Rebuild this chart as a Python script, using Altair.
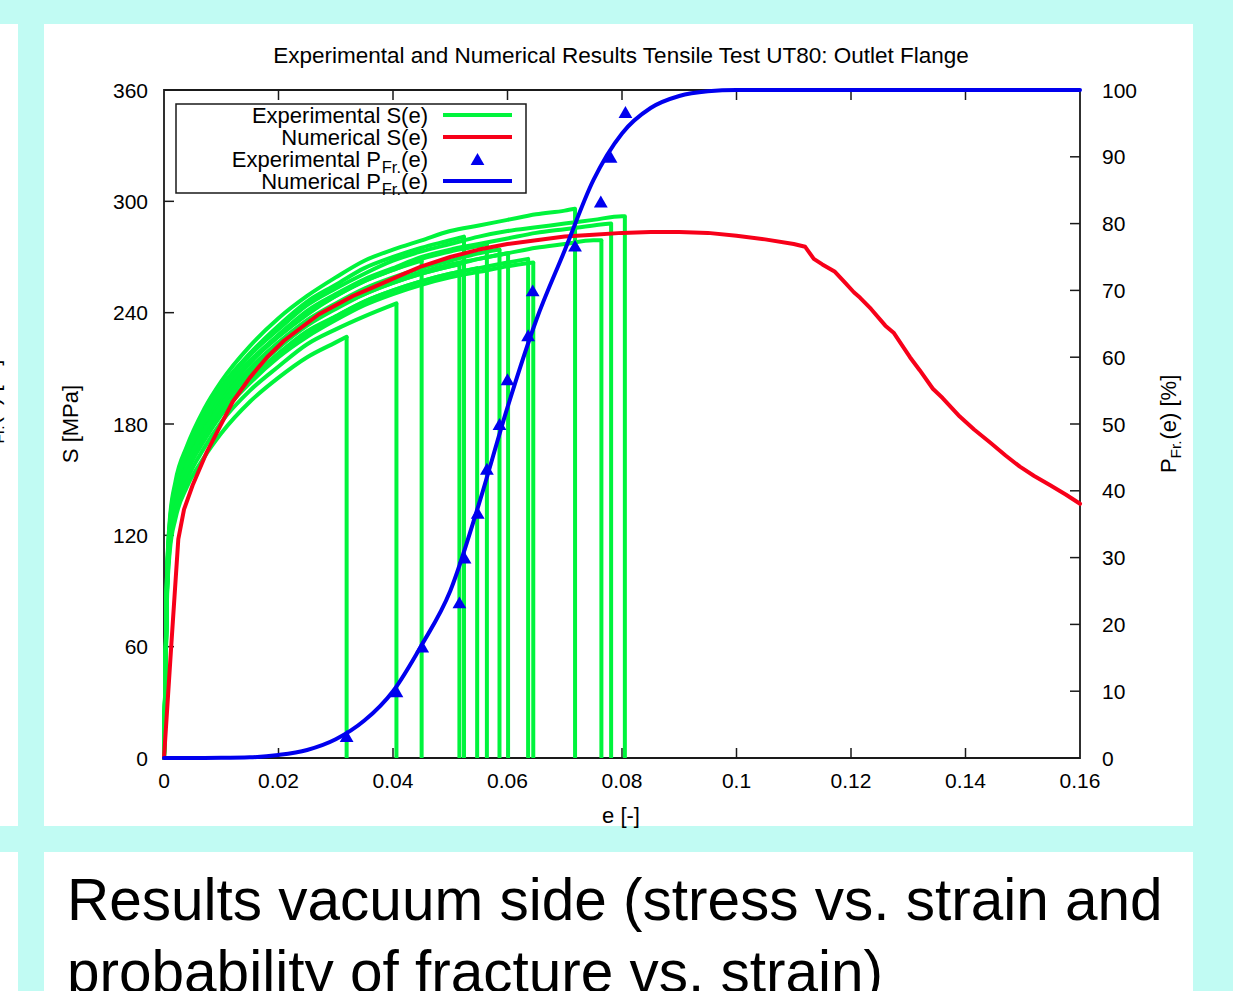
import altair as alt
import pandas as pd

FONT = "Liberation Sans"
CYAN = "#c1fbf3"
GREEN = "#00f43c"
RED = "#f70019"
BLUE = "#0000ee"
INK = "#1a1a1a"

# ---------------- data ----------------
strain_grid = [0, 0.0005, 0.001, 0.002, 0.004, 0.007, 0.01, 0.015, 0.02, 0.025, 0.03,
               0.035, 0.04, 0.045, 0.05, 0.055, 0.06, 0.065, 0.07, 0.075, 0.08]

exp_curves = [
    [0, 83, 111, 129, 146, 162, 175, 192, 205, 216, 224],
    [0, 86, 114, 133, 150, 167, 181, 198, 211, 223, 231, 238],
    [0, 92, 123, 143, 162, 180, 194, 213, 227, 239, 249, 257, 263],
    [0, 90, 120, 139, 157, 175, 189, 207, 221, 233, 242, 250, 256, 261, 265],
    [0, 95, 126, 147, 166, 185, 200, 218, 233, 246, 255, 264, 270, 275, 279],
    [0, 88, 118, 137, 155, 172, 186, 204, 218, 229, 238, 246, 252, 257, 261],
    [0, 92, 123, 144, 162, 180, 195, 213, 228, 240, 249, 257, 263, 269, 273, 276],
    [0, 91, 121, 141, 159, 177, 192, 210, 224, 236, 245, 253, 259, 264, 268, 272],
    [0, 90, 120, 140, 158, 176, 190, 208, 222, 234, 243, 250, 256, 261, 265, 269],
    [0, 88, 118, 137, 155, 173, 186, 204, 218, 230, 238, 246, 252, 257, 261, 264, 267],
    [0, 87, 117, 136, 154, 171, 185, 202, 216, 227, 236, 244, 250, 255, 259, 262, 265],
    [0, 96, 128, 149, 168, 188, 203, 222, 237, 249, 259, 268, 274, 279, 284, 287, 290, 293, 295],
    [0, 90, 120, 140, 158, 176, 190, 208, 222, 234, 243, 251, 257, 262, 266, 269, 272, 275, 277, 279],
    [0, 93, 123, 144, 163, 181, 196, 214, 228, 241, 250, 258, 264, 270, 274, 277, 280, 283, 285, 287],
    [0, 94, 125, 146, 164, 183, 198, 217, 231, 244, 253, 261, 268, 273, 277, 281, 284, 286, 288, 290, 292],
]
fracture_e = [0.0319, 0.0406, 0.0450, 0.0516, 0.0524, 0.0547, 0.0564, 0.0586, 0.0601,
              0.0636, 0.0645, 0.0718, 0.0764, 0.0781, 0.0805]
fracture_S = [227, 245, 268, 266, 281, 264, 277, 274, 272, 269, 267, 296, 279, 288, 292]

num_e = [0, 0.0013, 0.0025, 0.0035, 0.005, 0.0075, 0.0095, 0.012, 0.015, 0.018, 0.021, 0.024,
         0.027, 0.030, 0.033, 0.036, 0.039, 0.042, 0.045, 0.05, 0.055, 0.06, 0.065, 0.07, 0.075,
         0.08, 0.085, 0.09, 0.095, 0.1, 0.105, 0.11, 0.112, 0.1135, 0.115, 0.1172, 0.119, 0.1205,
         0.1216, 0.1235, 0.126, 0.1275, 0.1303, 0.132, 0.1343, 0.136, 0.139, 0.1415, 0.1443,
         0.147, 0.1495, 0.152, 0.1548, 0.1575, 0.16]
num_S = [0, 62, 118, 134, 147, 165, 177, 192, 205, 216, 225, 232, 239, 244, 249, 253, 257,
         261, 265, 270, 274, 277, 279, 281, 282, 283, 283.5, 283.5, 283, 281.5, 279.5, 277,
         275.5, 269, 266, 262, 256, 251, 248, 242, 233, 229, 216, 209, 199, 194, 184, 177,
         170, 163, 157, 152, 147, 142, 137]

pf_e = [0, 0.005, 0.01, 0.015, 0.02, 0.025, 0.03, 0.035, 0.04, 0.045, 0.05, 0.055, 0.06,
        0.065, 0.07, 0.075, 0.08, 0.085, 0.09, 0.095, 0.1, 0.12, 0.16]
pf_P = [0, 0, 0.02, 0.1, 0.45, 1.2, 2.8, 5.6, 10, 16.9, 25, 38, 52.5, 65.5, 76, 86.5, 93.5,
        97.3, 99.1, 99.8, 100, 100, 100]

exp_pf_e = [0.0319, 0.0406, 0.0451, 0.0516, 0.0525, 0.0548, 0.0564, 0.0586, 0.0600, 0.0636,
            0.0644, 0.0718, 0.0763, 0.0780, 0.0806]
exp_pf_P = [3.3, 10.0, 16.7, 23.3, 30.0, 36.7, 43.3, 50.0, 56.7, 63.3, 70.0, 76.7, 83.3, 90.0, 96.7]

x_tick_values = [0, 0.02, 0.04, 0.06, 0.08, 0.1, 0.12, 0.14, 0.16]
x_tick_labels = ["0", "0.02", "0.04", "0.06", "0.08", "0.1", "0.12", "0.14", "0.16"]
s_tick_values = [0, 60, 120, 180, 240, 300, 360]
p_tick_values = [0, 10, 20, 30, 40, 50, 60, 70, 80, 90, 100]

# ---------------- tables ----------------
rows = []
for c, (vals, ef, sf) in enumerate(zip(exp_curves, fracture_e, fracture_S)):
    for i, s in enumerate(vals):
        rows.append({"curve": c, "i": i, "e": strain_grid[i], "S": s})
    rows.append({"curve": c, "i": len(vals), "e": ef, "S": sf})
green_df = pd.DataFrame(rows)
drops_df = pd.DataFrame({"e": fracture_e, "S": fracture_S, "z": [0] * len(fracture_e)})
red_df = pd.DataFrame({"e": num_e, "S": num_S})
blue_df = pd.DataFrame({"e": pf_e, "P": pf_P})
tri_df = pd.DataFrame({"e": exp_pf_e, "P": exp_pf_P})
xl_df = pd.DataFrame({"e": x_tick_values, "lab": x_tick_labels})
sl_df = pd.DataFrame({"S": s_tick_values, "lab": [str(v) for v in s_tick_values]})
pl_df = pd.DataFrame({"P": p_tick_values, "lab": [str(v) for v in p_tick_values]})
xt_df = pd.DataFrame({"e": x_tick_values[1:-1]})
st_df = pd.DataFrame({"S": s_tick_values[1:-1]})
pt_df = pd.DataFrame({"P": p_tick_values[1:-1]})
dummy = pd.DataFrame({"k": [0]})

W, H = 916, 668
xs = alt.Scale(domain=[0, 0.16], nice=False, zero=False)
ys = alt.Scale(domain=[0, 360], nice=False, zero=False)
ps = alt.Scale(domain=[0, 100], nice=False, zero=False)

LAB = 21


def X(field="e"):
    return alt.X(f"{field}:Q", scale=xs, axis=None)


def YS(field="S"):
    return alt.Y(f"{field}:Q", scale=ys, axis=None)


def YP(field="P"):
    return alt.Y(f"{field}:Q", scale=ps, axis=None)


def rect(x1, x2, y1, y2, **kw):
    return alt.Chart(dummy).mark_rect(**kw).encode(
        x=alt.value(x1), x2=alt.value(x2), y=alt.value(y1), y2=alt.value(y2))


def txt(s, x, y, size=22, align="left", angle=0, baseline="alphabetic"):
    return alt.Chart(dummy).mark_text(
        text=s, font=FONT, fontSize=size, align=align, baseline=baseline,
        angle=angle, color="black").encode(x=alt.value(x), y=alt.value(y))


def seg(x1, x2, y1, y2, color, width):
    return alt.Chart(dummy).mark_rule(color=color, strokeWidth=width).encode(
        x=alt.value(x1), x2=alt.value(x2), y=alt.value(y1), y2=alt.value(y2))


# background panels (relative to plot origin at page (164, 90))
panels = [
    rect(-164, -146, -66, 736, color="white"),
    rect(-164, -146, 762, 901, color="white"),
    rect(-120, 1029, -66, 736, color="white"),
    rect(-120, 1029, 762, 901, color="white"),
]
frame = rect(0, W, 0, H, fillOpacity=0, stroke=INK, strokeWidth=1.8)

xt_bottom = alt.Chart(xt_df).mark_rule(color=INK, strokeWidth=1.5).encode(
    x=X(), y=alt.value(H), y2=alt.value(H - 10))
xt_top = alt.Chart(xt_df).mark_rule(color=INK, strokeWidth=1.5).encode(
    x=X(), y=alt.value(0), y2=alt.value(10))
st_left = alt.Chart(st_df).mark_rule(color=INK, strokeWidth=1.5).encode(
    y=YS(), x=alt.value(0), x2=alt.value(10))

x_labels = alt.Chart(xl_df).mark_text(
    font=FONT, fontSize=LAB, align="center", baseline="alphabetic", color="black"
).encode(x=X(), y=alt.value(H + 30), text="lab:N")
s_labels = alt.Chart(sl_df).mark_text(
    font=FONT, fontSize=LAB, align="right", baseline="alphabetic", dy=7.5, color="black"
).encode(y=YS(), x=alt.value(-16), text="lab:N")

green = alt.Chart(green_df).mark_line(
    color=GREEN, strokeWidth=4, interpolate="monotone", strokeCap="round", strokeJoin="round"
).encode(x=X(), y=YS(), detail="curve:N", order=alt.Order("i:Q"))
drops = alt.Chart(drops_df).mark_rule(color=GREEN, strokeWidth=4).encode(
    x=X(), y=YS(), y2="z:Q")
red = alt.Chart(red_df).mark_line(
    color=RED, strokeWidth=4, strokeJoin="round", strokeCap="round"
).encode(x=X(), y=YS())

layer_s = alt.layer(*panels, frame, xt_bottom, xt_top, st_left, x_labels, s_labels,
                    green, drops, red)

pt_right = alt.Chart(pt_df).mark_rule(color=INK, strokeWidth=1.5).encode(
    y=YP(), x=alt.value(W), x2=alt.value(W - 10))
p_labels = alt.Chart(pl_df).mark_text(
    font=FONT, fontSize=LAB, align="left", baseline="alphabetic", dy=7.5, color="black"
).encode(y=YP(), x=alt.value(W + 22), text="lab:N")
blue = alt.Chart(blue_df).mark_line(
    color=BLUE, strokeWidth=4, interpolate="monotone", strokeCap="round"
).encode(x=X(), y=YP())
tris = alt.Chart(tri_df).mark_point(
    shape="triangle-up", filled=True, size=190, color=BLUE, opacity=1
).encode(x=X(), y=YP())
layer_p = alt.layer(pt_right, p_labels, blue, tris)

# texts, legend
SUB = 16.5
texts = [
    txt("Experimental and Numerical Results Tensile Test UT80: Outlet Flange", 457, -27, size=22.5, align="center"),
    txt("e [-]", 457, 733, size=22, align="center"),
    txt("S [MPa]", -86, 334, size=22, align="center", angle=270),
    # right axis title P_Fr.(e) [%]
    txt("P", 1012, 383, size=22, angle=270),
    txt("Fr.", 1017, 368.5, size=15.5, angle=270),
    txt("(e) [%]", 1012, 349.5, size=22, angle=270),
    # clipped title from the neighbouring panel
    txt("P", -165, 368, size=22, angle=270),
    txt("Fr.", -160, 353.5, size=15.5, angle=270),
    txt("(e) [%]", -165, 334.5, size=22, angle=270),
    # legend
    txt("Experimental S(e)", 264, 33, size=22, align="right"),
    txt("Numerical S(e)", 264, 55, size=22, align="right"),
    txt("(e)", 264, 77, size=22, align="right"),
    txt("Fr.", 237, 82.5, size=SUB, align="right"),
    txt("Experimental P", 217, 77, size=22, align="right"),
    txt("(e)", 264, 99, size=22, align="right"),
    txt("Fr.", 237, 104.5, size=SUB, align="right"),
    txt("Numerical P", 217, 99, size=22, align="right"),
    # caption below the chart
    txt("Results vacuum side (stress vs. strain and", -97, 830, size=58.5),
    txt("probability of fracture vs. strain)", -97, 902, size=58.5),
]
legend_box = rect(12, 362, 14, 103, fillOpacity=0, stroke=INK, strokeWidth=1.5)
legend_marks = [
    seg(279, 348, 25, 25, GREEN, 4),
    seg(279, 348, 47, 47, RED, 4),
    alt.Chart(dummy).mark_point(shape="triangle-up", filled=True, size=190, color=BLUE, opacity=1)
    .encode(x=alt.value(313.5), y=alt.value(69)),
    seg(279, 348, 91, 91, BLUE, 4),
]
layer_t = alt.layer(legend_box, *legend_marks, *texts)

chart = alt.layer(layer_s, layer_p, layer_t).resolve_scale(y="independent").properties(
    width=W, height=H,
    padding={"left": 164, "top": 90, "right": 153, "bottom": 233},
    autosize=alt.AutoSizeParams(type="none"),
    background=CYAN,
).configure_view(stroke=None)

chart.save("out.html", embed_options={"renderer": "svg", "actions": False})
